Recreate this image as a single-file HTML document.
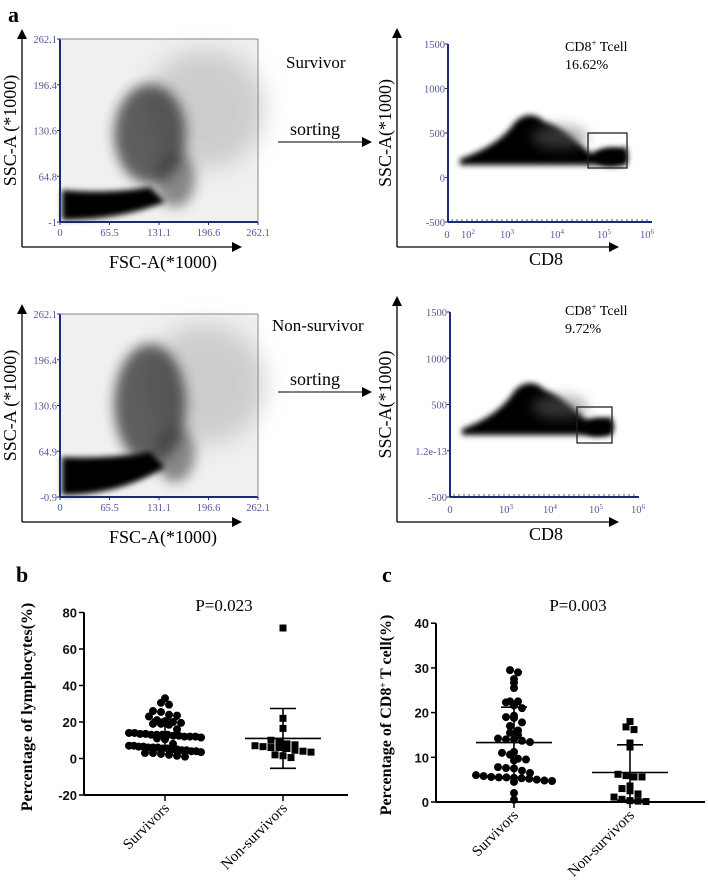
<!DOCTYPE html>
<html><head><meta charset="utf-8"><style>
html,body{margin:0;padding:0;background:#fff;}
svg{display:block;font-family:"Liberation Serif",serif;}
.bt{font-family:"Liberation Sans",sans-serif;font-weight:bold;font-size:13px;fill:#111;}
.ft{font-family:"Liberation Serif",serif;font-size:10.5px;fill:#55559a;}
</style></head><body>
<svg id="fig" width="708" height="885" viewBox="0 0 708 885" xmlns="http://www.w3.org/2000/svg">
<defs>
<filter id="bl1" x="-50%" y="-50%" width="200%" height="200%"><feGaussianBlur stdDeviation="6"/></filter>
<filter id="bl2" x="-50%" y="-50%" width="200%" height="200%"><feGaussianBlur stdDeviation="3"/></filter>
<filter id="bl3" x="-50%" y="-50%" width="200%" height="200%"><feGaussianBlur stdDeviation="12"/></filter>
<marker id="arr" markerWidth="10" markerHeight="10" refX="8" refY="5" orient="auto" markerUnits="userSpaceOnUse"><path d="M0,0 L10,5 L0,10 z" fill="#000"/></marker>
</defs>
<text x="8" y="22" font-size="22" font-weight="bold">a</text>
<g id="flow"></g>
<g id="panelB"></g>
<g id="panelC"></g>
</svg>
<script>
// ---- panel b data ----
const bCategories = ["Survivors","Non-survivors"];
const bSurvivors = [33,30.5,29.5,26,25.5,24,23.5,23,21,20.5,20,19.5,19,19,18.5,16,14,14,13.5,13.5,13,13,13,13,12.5,12.5,12,12,12,11.5,11,10.5,8,7,7,6.5,6.5,6,6,6,5.5,5.5,5,5,4.5,4.5,4,4,3.5,3,3,2.5,2,1.5,1];
const bNonSurvivors = [71.5,22,16.5,10,9.5,8,7.5,7,6.5,6,6,5.5,4.5,4,3.5,2,1.5,0.5];
const bMeans = [13,11];
const bSDs = [8.5,16.4];
const bTicks = [80,60,40,20,0,-20];
// ---- panel c data ----
const cCategories = ["Survivors","Non-survivors"];
const cSurvivors = [29.5,29,27.5,26.7,25.5,22.5,22.3,22.5,21.6,21,19.3,19,18.8,17.8,17,16,15,15.5,14,13.7,14,14.2,13.4,11,11.2,10.6,9.5,9.3,9.7,7.8,7.5,7.6,7,6.5,6,5.8,5.5,5.5,5.3,5.2,5.6,5.4,5,4.8,4.5,4.7,2,0.5];
const cNonSurvivors = [18,16.8,16.2,13.2,12.3,6.2,5.9,5.6,5.6,3.6,3,2.5,1.8,1.1,0.6,0.2,0.1,0.3];
const cMeans = [13.3,6.6];
const cSDs = [7.9,6.2];
const cTicks = [40,30,20,10,0];

const NS="http://www.w3.org/2000/svg";
function mk(tag,attrs,parent,txt){const e=document.createElementNS(NS,tag);for(const k in attrs)e.setAttribute(k,attrs[k]);if(txt!==undefined)e.textContent=txt;parent.appendChild(e);return e;}

// ---------- flow panels ----------
const flow=document.getElementById('flow');
function fsc(dy,yt,label){
  const g=mk('g',{},flow);
  
  
  const top=39+dy,bot=222+dy,L=60,R=258;
  mk('rect',{x:L,y:top,width:R-L,height:bot-top,fill:'#ccc',opacity:0.3},g);
  mk('ellipse',{cx:205,cy:top+70,rx:60,ry:60,fill:'#aaa',filter:'url(#bl3)',opacity:0.5},g);
  mk('ellipse',{cx:150,cy:top+(dy?90:95),rx:36,ry:(dy?60:50),fill:'#222',filter:'url(#bl1)',opacity:0.7},g);
  mk('ellipse',{cx:175,cy:top+140,rx:20,ry:28,fill:'#333',filter:'url(#bl1)',opacity:0.55},g);
  mk('path',{d:`M${L+2},${bot-2} L${L+2},${bot-(dy?40:32)} Q110,${bot-(dy?38:28)} 150,${bot-(dy?45:35)} L165,${bot-(dy?30:20)} Q120,${bot-2} ${L+2},${bot-2}z`,fill:'#000',filter:'url(#bl2)'},g);
  mk('line',{x1:22,y1:bot+25,x2:22,y2:top-8,stroke:'#000','stroke-width':1.3,'marker-end':'url(#arr)'},g);
  mk('line',{x1:22,y1:bot+25,x2:240,y2:bot+25,stroke:'#000','stroke-width':1.3,'marker-end':'url(#arr)'},g);
  mk('line',{x1:L,y1:top,x2:L,y2:bot,stroke:'#1a2a7a','stroke-width':2},g);
  mk('line',{x1:L,y1:bot,x2:R,y2:bot,stroke:'#1a2a7a','stroke-width':2},g);
  mk('line',{x1:L,y1:top,x2:R,y2:top,stroke:'#888','stroke-width':1},g);
  mk('line',{x1:R,y1:top,x2:R,y2:bot,stroke:'#888','stroke-width':1},g);
  yt.forEach((t,i)=>{const y=top+i*(bot-top)/4;mk('line',{x1:L-3,y1:y,x2:L,y2:y,stroke:'#1a2a7a'},g);mk('text',{x:L-3,y:y+4,'text-anchor':'end',class:'ft'},g,t);});
  ['0','65.5','131.1','196.6','262.1'].forEach((t,i)=>{const x=L+i*(R-L)/4;mk('line',{x1:x,y1:bot,x2:x,y2:bot+3,stroke:'#1a2a7a'},g);mk('text',{x:x,y:bot+14,'text-anchor':'middle',class:'ft'},g,t);});
  const xl=mk('text',{x:163,y:bot+46,'text-anchor':'middle','font-size':18},g,'FSC-A(*1000)');
  
  const yl=mk('text',{x:0,y:0,'text-anchor':'middle','font-size':18,transform:`translate(16,${(top+bot)/2}) rotate(-90)`},g,'SSC-A (*1000)');
  
}
function cd8(dy,yt,xt,pct,o){
  const g=mk('g',{},flow);
  
  
  const top=o.top,bot=o.bot,L=o.L,R=o.R;
  const fl=o.floor;
  mk('path',{d:`M${o.x0},${fl} L${o.x0},${fl-6} Q500,${fl-20} 515,${o.peak+10} Q530,${o.peak-4} 545,${o.peak+10} Q560,${fl-40} 590,${fl-12} L${o.gx2},${fl-18} L${o.gx2},${fl} Z`,fill:'#000',filter:'url(#bl2)'},g);
  mk('ellipse',{cx:560,cy:fl-28,rx:28,ry:12,fill:'#666',filter:'url(#bl1)',opacity:0.5},g);
  mk('ellipse',{cx:(o.gx1+o.gx2)/2+3,cy:fl-8,rx:16,ry:9,fill:'#000',filter:'url(#bl2)'},g);
  const gate=mk('rect',{x:o.gx1,y:o.gy1,width:o.gx2-o.gx1,height:o.gy2-o.gy1,fill:'none',stroke:'#222','stroke-width':1.3},g);
  
  mk('line',{x1:397,y1:bot+25,x2:397,y2:top-14,stroke:'#000','stroke-width':1.3,'marker-end':'url(#arr)'},g);
  mk('line',{x1:397,y1:bot+25,x2:617,y2:bot+25,stroke:'#000','stroke-width':1.3,'marker-end':'url(#arr)'},g);
  mk('line',{x1:L,y1:top,x2:L,y2:bot,stroke:'#1a2a7a','stroke-width':2},g);
  mk('line',{x1:L,y1:bot,x2:R,y2:bot,stroke:'#1a2a7a','stroke-width':2},g);
  for(let x=L+4;x<R;x+=5)mk('line',{x1:x,y1:bot-3,x2:x,y2:bot,stroke:'#1a2a7a','stroke-width':0.8},g);
  yt.forEach((t,i)=>{const y=top+i*(bot-top)/4;mk('line',{x1:L-3,y1:y,x2:L,y2:y,stroke:'#1a2a7a'},g);mk('text',{x:L-3,y:y+4,'text-anchor':'end',class:'ft'},g,t);});
  xt.forEach(t=>{const tx=mk('text',{x:t[0],y:bot+16,'text-anchor':'middle',class:'ft'},g,t[1]);if(t[2]){mk('tspan',{'baseline-shift':'super','font-size':7},tx,t[2]);}});
  const xl=mk('text',{x:546,y:bot+43,'text-anchor':'middle','font-size':18},g,'CD8');
  
  const yl=mk('text',{x:0,y:0,'text-anchor':'middle','font-size':18,transform:`translate(391,${(top+bot)/2}) rotate(-90)`},g,'SSC-A(*1000)');
  
  const t1=mk('text',{x:565,y:o.ty,'font-size':14},g,'CD8');
  mk('tspan',{'baseline-shift':'super','font-size':9},t1,'+');
  mk('tspan',{},t1,' Tcell');
  
  const t2=mk('text',{x:565,y:o.ty+18,'font-size':14},g,pct);
  
}
fsc(0,['262.1','196.4','130.6','64.8','-1'],'survivor');
fsc(275,['262.1','196.4','130.6','64.9','-0.9'],'non-survivor');
cd8(0,['1500','1000','500','0','-500'],[[447,'0'],[468,'10','2'],[507,'10','3'],[557,'10','4'],[604,'10','5'],[647,'10','6']],'16.62%',
 {top:44,bot:222,L:448,R:652,floor:165,x0:460,peak:112,gx1:588,gx2:627,gy1:133,gy2:168,ty:51});
cd8(275,['1500','1000','500','1.2e-13','-500'],[[450,'0'],[506,'10','3'],[550,'10','4'],[596,'10','5'],[638,'10','6']],'9.72%',
 {top:312,bot:497,L:450,R:639,floor:435,x0:462,peak:380,gx1:577,gx2:612,gy1:407,gy2:443,ty:315});
[[62,130,142,'Survivor','survivor'],[325,380,392,'Non-survivor','non-survivor']].forEach(a=>{
  const t=mk('text',{x:a[3]==='Survivor'?286:272,y:a[0]+6,'font-size':17},flow,a[3]);
  
  const s=mk('text',{x:290,y:a[1]+5,'font-size':18},flow,'sorting');
  
  const l=mk('line',{x1:278,y1:a[2],x2:370,y2:a[2],stroke:'#333','stroke-width':1.3,'marker-end':'url(#arr)'},flow);
  
});

// ---------- scatter panels ----------
// bin-based swarm: points within the same vertical bin are spread evenly, capped at maxHalf
function swarm(vals,yf,cx,d,maxHalf){
  const bins={};
  vals.forEach(v=>{const y=yf(v);const k=Math.round(y/(d*0.9));(bins[k]=bins[k]||[]).push(y);});
  const out=[];
  Object.values(bins).forEach(ys=>{const n=ys.length;const half=Math.min(maxHalf,(n-1)*d/2);
    ys.sort((a,b)=>a-b);
    const xs=[];for(let j=0;j<n;j++)xs.push(n===1?cx:cx-half+j*(2*half)/(n-1));
    // center-out ordering so the smaller values sit in middle (V shape)
    ys.forEach((y,j)=>out.push([xs[j],y]));});
  return out;
}
function scatter(id,opt){
  const g=document.getElementById(id);
  const y=v=>opt.y0-(v-opt.vmin)*opt.ppu;
  const ax=mk('line',{x1:opt.L,y1:y(opt.ticks[0]),x2:opt.L,y2:y(opt.vmin),stroke:'#000','stroke-width':2},g);
  
  const xa=mk('line',{x1:opt.L,y1:opt.y0,x2:opt.R,y2:opt.y0,stroke:'#000','stroke-width':2},g);
  
  opt.ticks.forEach(t=>{mk('line',{x1:opt.L-5,y1:y(t),x2:opt.L,y2:y(t),stroke:'#000','stroke-width':1.5},g);
    const tl=mk('text',{x:opt.L-7,y:y(t)+5,'text-anchor':'end',class:'bt'},g,String(t));
    });
  opt.cats.forEach((c,i)=>{const x=opt.cx[i];
    mk('line',{x1:x,y1:opt.y0,x2:x,y2:opt.y0+6,stroke:'#000','stroke-width':1.5},g);
    const tl=mk('text',{x:0,y:0,'text-anchor':'end','font-size':15,transform:`translate(${x+5},${opt.y0+14}) rotate(-45)`},g,c);
    
    const pts=swarm(opt.series[i],y,x,opt.d,opt.maxHalf[i]);
    pts.forEach(p=>{let m;
      if(i===0)m=mk('circle',{cx:p[0],cy:p[1],r:opt.d/2,fill:'#000'},g);
      else m=mk('rect',{x:p[0]-opt.d/2+0.5,y:p[1]-opt.d/2+0.5,width:opt.d-1,height:opt.d-1,fill:'#000'},g);
      
      });
    const m=opt.means[i],s=opt.sds[i];
    const ml=mk('line',{x1:x-38,y1:y(m),x2:x+38,y2:y(m),stroke:'#000','stroke-width':1.6},g);
    
    const eb=mk('path',{d:`M${x},${y(m+s)} L${x},${y(m-s)} M${x-13},${y(m+s)} L${x+13},${y(m+s)} M${x-13},${y(m-s)} L${x+13},${y(m-s)}`,stroke:'#000','stroke-width':1.6,fill:'none'},g);
    
  });
  const tt=mk('text',{x:opt.tx,y:611,'text-anchor':'middle','font-size':17},g,opt.title);
  
  const pl=mk('text',{x:opt.lx,y:582,'font-size':22,'font-weight':'bold'},g,opt.letter);
  
  return g;
}
scatter('panelB',{L:84,R:348,y0:795,vmin:-20,ppu:36.5/20,ticks:bTicks,cats:bCategories,cx:[165,283],series:[bSurvivors,bNonSurvivors],means:bMeans,sds:bSDs,d:8,maxHalf:[36,36],title:'P=0.023',tx:224,letter:'b',lx:16});
scatter('panelC',{L:436,R:705,y0:802,vmin:0,ppu:44.7/10,ticks:cTicks,cats:cCategories,cx:[514,630],series:[cSurvivors,cNonSurvivors],means:cMeans,sds:cSDs,d:8,maxHalf:[38,28],title:'P=0.003',tx:578,letter:'c',lx:382});
const yb=mk('text',{x:0,y:0,'text-anchor':'middle','font-size':16,'font-weight':'bold',transform:'translate(32,707) rotate(-90)'},document.getElementById('panelB'),'Percentage of lymphocytes(%)');

const yc=mk('text',{x:0,y:0,'text-anchor':'middle','font-size':16,'font-weight':'bold',transform:'translate(391,715) rotate(-90)'},document.getElementById('panelC'),'Percentage of CD8');

mk('tspan',{'baseline-shift':'super','font-size':9},yc,'+');
mk('tspan',{},yc,' T cell(%)');
</script>
</body></html>
